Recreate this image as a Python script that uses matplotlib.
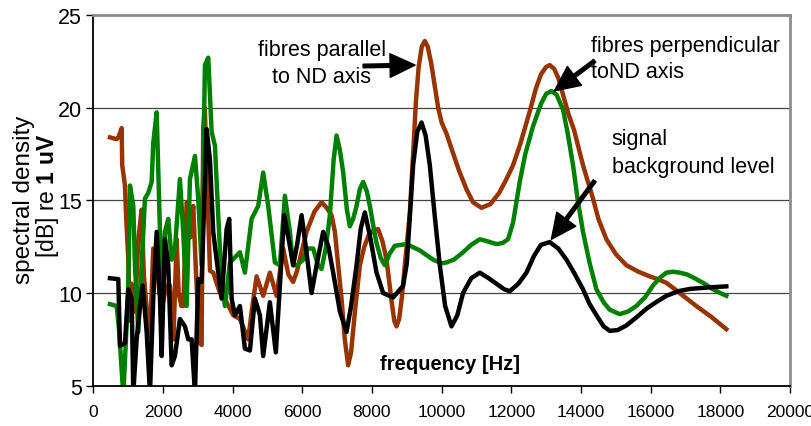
import matplotlib
matplotlib.use("Agg")
import matplotlib.pyplot as plt

plt.rcParams['font.family'] = ['Liberation Sans', 'DejaVu Sans']
plt.rcParams['mathtext.fontset'] = 'custom'
plt.rcParams['mathtext.rm'] = 'Liberation Sans'
plt.rcParams['mathtext.bf'] = 'Liberation Sans:bold'

# frequency [Hz] / spectral density [dB]
brown_hz = [479, 670, 720, 815, 830, 909, 938, 1000, 1053, 1100, 1200, 1292, 1388, 1450,
            1532, 1627, 1721, 1800, 1900, 2000, 2100, 2201, 2300, 2393, 2450, 2530, 2582,
            2680, 2780, 2869, 2950, 3050, 3110, 3156, 3200, 3300, 3350, 3443, 3635, 3827,
            4017, 4209, 4448, 4560, 4688, 4877, 5069, 5261, 5451, 5600, 5738, 5850, 5950,
            6122, 6350, 6553, 6700, 6840, 6935, 7030, 7126, 7220, 7316, 7400, 7500, 7652,
            7780, 7900, 8050, 8177, 8300, 8418, 8560, 8640, 8704, 8780, 8860, 8943, 9020,
            9086, 9181, 9260, 9340, 9430, 9517, 9600, 9700, 9800, 9900, 10000, 10139, 10300,
            10500, 10713, 10900, 11143, 11400, 11650, 11860, 12050, 12250, 12529, 12700,
            12850, 13000, 13103, 13230, 13350, 13500, 13650, 13800, 14058, 14200, 14345,
            14500, 14730, 15000, 15303, 15650, 15972, 16200, 16451, 16700, 16900, 17311,
            17750, 18172]
brown_db = [18.4, 18.3, 18.4, 18.9, 16.9, 15.8, 14.3, 12.0, 8.5, 10.5, 9.0, 12.9, 14.5, 11.0,
            9.2, 7.6, 12.4, 12.0, 10.0, 9.5, 10.4, 10.4, 7.5, 12.9, 10.0, 9.3, 9.3,
            14.9, 13.0, 14.7, 11.0, 7.3, 7.2, 18.9, 20.0, 14.0, 11.2, 11.1, 10.0, 9.5,
            8.8, 8.6, 7.5, 9.2, 10.9, 9.85, 11.1, 9.85, 12.4, 11.0, 10.6, 11.2, 12.0,
            13.3, 14.4, 14.9, 14.6, 14.2, 13.3, 11.5, 9.7, 7.5, 6.1, 6.8, 8.8, 11.5,
            12.5, 13.1, 13.4, 13.45, 12.8, 11.8, 9.6, 8.5, 8.2, 8.6, 9.8, 11.5, 13.0,
            14.3, 17.5, 20.3, 22.2, 23.3, 23.6, 23.3, 22.4, 21.2, 20.0, 19.2, 18.6, 17.7,
            16.6, 15.6, 14.9, 14.6, 14.8, 15.4, 16.15, 16.9, 18.0, 19.8, 21.0,
            21.8, 22.2, 22.3, 22.1, 21.6, 20.6, 19.6, 18.8, 16.9, 16.0, 15.1,
            14.0, 12.9, 12.1, 11.5, 11.15, 10.9, 10.75, 10.55, 10.2, 9.9, 9.3,
            8.7, 8.05]

green_hz = [479, 670, 740, 861, 950, 1004, 1053, 1148, 1196, 1292, 1388, 1483, 1578, 1675,
            1721, 1819, 1914, 1962, 2057, 2152, 2249, 2344, 2487, 2582, 2680, 2774, 2918,
            3012, 3110, 3205, 3300, 3397, 3492, 3586, 3684, 3780, 3922, 4209, 4352, 4544,
            4734, 4877, 5021, 5213, 5356, 5500, 5643, 5738, 5850, 6025, 6150, 6312, 6450,
            6553, 6680, 6791, 6900, 6983, 7080, 7173, 7280, 7364, 7460, 7557, 7650, 7747,
            7850, 7939, 8050, 8131, 8250, 8369, 8500, 8656, 8991, 9373, 9755, 10000, 10139,
            10350, 10615, 10850, 11094, 11300, 11573, 11750, 11906, 12050, 12242, 12400,
            12624, 12850, 13000, 13151, 13300, 13485, 13620, 13772, 13900, 14058, 14250,
            14444, 14650, 14824, 15112, 15350, 15590, 15850, 16066, 16250, 16451, 16650,
            16833, 17050, 17311, 17550, 17789, 18000, 18172]
green_db = [9.4, 9.3, 8.0, 4.5, 8.0, 10.4, 15.8, 14.7, 11.5, 7.9, 11.5, 15.1, 15.4, 16.0,
            18.1, 19.75, 13.3, 9.7, 13.3, 14.0, 11.8, 12.4, 16.15, 13.3, 9.3, 16.15, 17.4,
            15.1, 11.5, 22.3, 22.7, 18.7, 17.95, 14.2, 10.6, 9.3, 11.65, 12.2, 11.1, 14.0,
            14.7, 16.5, 14.7, 11.65, 11.5, 15.25, 13.3, 11.5, 11.5, 11.8, 12.4, 12.4, 11.5,
            11.3, 12.5, 14.2, 17.2, 18.5, 17.7, 16.5, 14.5, 13.6, 14.0, 14.7, 15.6, 16.0,
            15.5, 14.7, 13.5, 12.7, 11.9, 11.5, 12.1, 12.55, 12.64, 12.3, 11.8, 11.6, 11.65,
            11.8, 12.2, 12.6, 12.9, 12.8, 12.64, 12.7, 12.9, 13.8, 16.0, 17.5,
            19.0, 20.2, 20.75, 20.9, 20.7, 19.9, 18.6, 16.9, 15.1, 13.3, 11.6,
            10.2, 9.5, 9.1, 8.86, 9.0, 9.3, 9.8, 10.4, 10.8, 11.1, 11.15,
            11.1, 11.0, 10.75, 10.5, 10.2, 10.0, 9.85]

black_hz = [479, 718, 766, 909, 1004, 1102, 1148, 1245, 1340, 1417, 1532, 1627, 1721, 1819,
            1914, 1962, 2057, 2152, 2249, 2344, 2487, 2631, 2726, 2823, 2918, 3012, 3110,
            3253, 3348, 3443, 3540, 3684, 3827, 3902, 3971, 4065, 4209, 4352, 4496, 4639,
            4783, 4877, 5069, 5240, 5480, 5600, 5738, 5850, 5979, 6100, 6266, 6420, 6599,
            6750, 6886, 7080, 7270, 7400, 7557, 7680, 7795, 7950, 8131, 8320, 8607, 8894,
            9000, 9100, 9181, 9300, 9422, 9540, 9660, 9800, 9947, 10100, 10283, 10450, 10615,
            10850, 11094, 11350, 11573, 11800, 11955, 12200, 12434, 12650, 12850, 13103,
            13350, 13583, 13800, 14058, 14250, 14444, 14650, 14824, 15050, 15303, 15600,
            15877, 16150, 16451, 16800, 17120, 17650, 18172]
black_db = [10.8, 10.75, 7.15, 7.3, 10.2, 9.7, 4.6, 7.5, 9.3, 10.4, 7.9, 4.6, 9.7, 13.3,
            9.7, 6.6, 12.9, 11.5, 6.1, 6.6, 8.6, 8.2, 7.5, 7.5, 4.6, 10.75, 10.6,
            18.85, 17.2, 13.3, 11.8, 9.7, 13.45, 14.0, 9.7, 8.8, 9.3, 7.0, 6.9, 9.7,
            8.8, 6.6, 9.5, 6.8, 14.2, 13.0, 11.5, 12.6, 14.2, 12.5, 10.0, 11.6, 13.3,
            12.5, 11.1, 9.0, 7.9, 9.3, 11.5, 13.5, 14.35, 13.0, 11.1, 10.0, 9.76, 10.39,
            11.6, 14.5, 16.9, 18.7, 19.2, 18.5, 16.9, 14.2, 11.5, 9.3, 8.2, 8.8, 10.0,
            10.8, 11.1, 10.8, 10.5, 10.2, 10.1, 10.5, 11.1, 12.0, 12.6, 12.75,
            12.4, 11.8, 11.1, 10.2, 9.4, 8.8, 8.2, 7.96, 8.0, 8.25, 8.7,
            9.15, 9.5, 9.85, 10.1, 10.22, 10.3, 10.36]

x_ticks = list(range(0, 20001, 2000))
y_ticks = [5, 10, 15, 20, 25]

fig = plt.figure(figsize=(8.12, 4.27), dpi=100)
ax = fig.add_axes([0.1149, 0.0944, 0.858, 0.868])

ax.plot(brown_hz, brown_db, color='#993300', lw=3.2, solid_joinstyle='round')
ax.plot(green_hz, green_db, color='#008000', lw=3.2, solid_joinstyle='round')
ax.plot(black_hz, black_db, color='black', lw=3.2, solid_joinstyle='round')

ax.set_xlim(0, 20000)
ax.set_ylim(5, 25)
ax.set_xticks(x_ticks)
ax.set_yticks(y_ticks)
ax.tick_params(axis='x', labelsize=12.5, length=5, width=1, pad=8)
ax.tick_params(axis='y', labelsize=15.5, length=5, width=1, pad=3)
for g in [10, 15, 20]:
    ax.axhline(g, color='#444444', lw=0.9, zorder=0)
ax.spines['top'].set_color('#8c8c8c')
ax.spines['top'].set_linewidth(2)
ax.spines['right'].set_color('#8c8c8c')
ax.spines['right'].set_linewidth(2)
ax.spines['left'].set_linewidth(1.3)
ax.spines['bottom'].set_linewidth(1.3)

ax.text(10240, 6.2, 'frequency [Hz]', fontsize=14.5, fontweight='bold', ha='center', va='center')

fig.text(0.030, 0.532, 'spectral density', rotation=90, fontsize=17.5, ha='center', va='center')
fig.text(0.058, 0.543, r'[dB] re $\mathbf{1\ uV}$', rotation=90, fontsize=16.5, ha='center', va='center')

arrow = dict(facecolor='black', edgecolor='black', width=2.6, headwidth=17, headlength=18, shrink=0)
ax.text(6561, 22.4, 'fibres parallel\nto ND axis', fontsize=15.5, ha='center', va='center',
        linespacing=1.35)
ax.annotate('', xy=(9238, 22.3), xytext=(7746, 22.25), arrowprops=arrow)

ax.text(14300, 22.65, 'fibres perpendicular\ntoND axis', fontsize=15.5, ha='left', va='center',
        linespacing=1.35)
ax.annotate('', xy=(13237, 20.91), xytext=(14394, 22.53), arrowprops=arrow)

ax.text(14880, 17.6, 'signal\nbackground level', fontsize=15.5, ha='left', va='center',
        linespacing=1.45)
ax.annotate('', xy=(13151, 12.9), xytext=(14394, 16.06), arrowprops=arrow)

fig.savefig('out.png', dpi=100)
